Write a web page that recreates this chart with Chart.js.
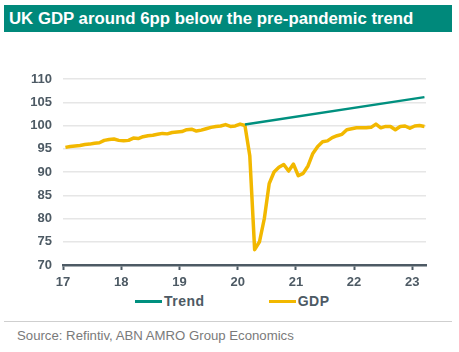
<!DOCTYPE html>
<html lang="en">
<head>
    <meta charset="UTF-8">
    <title>UK GDP vs pre-pandemic trend</title>
    <script src="https://cdn.jsdelivr.net/npm/chart.js"></script>
    <style>
        body {
            margin: 0;
            width: 459px;
            height: 352px;
            background: #fff;
            font-family: 'Liberation Sans', Arial, sans-serif;
            position: relative;
            overflow: hidden;
        }
        .title-box {
            position: absolute;
            left: 4px;
            top: 5px;
            width: 443px;
            height: 27px;
            padding-left: 5px;
            background: #00897b;
            color: #fff;
            font-weight: bold;
            font-size: 16.8px;
            line-height: 27px;
        }
        .chart-wrap {
            position: absolute;
            left: 0;
            top: 0;
            width: 459px;
            height: 292px;
        }
        #legend {
            position: absolute;
            left: 135px;
            top: 293px;
            display: flex;
            gap: 64px;
            font-size: 14px;
            font-weight: bold;
            color: #4d5a64;
            letter-spacing: 0.5px;
        }
        #legend .item { display: flex; align-items: center; }
        #legend .swatch { width: 27px; height: 3px; margin-right: 2px; }
        .rule {
            position: absolute;
            left: 4px;
            top: 321px;
            width: 448px;
            height: 1px;
            background: #cfcfcf;
        }
        .source {
            position: absolute;
            left: 17px;
            top: 328px;
            font-size: 13.2px;
            color: #7a7a7a;
        }
    </style>
</head>
<body>
    <div class="title-box">UK GDP around 6pp below the pre-pandemic trend</div>
    <div class="chart-wrap"><canvas id="gdpChart"></canvas></div>
    <div id="legend"></div>
    <div class="rule"></div>
    <div class="source">Source: Refintiv, ABN AMRO Group Economics</div>

    <script>
        // monthly index, Jan 2017 .. Mar 2023
        const startYear = 2017;
        const gdp = [
            95.3, 95.5, 95.6, 95.7, 95.9, 96.0, 96.2, 96.3, 96.8, 97.0, 97.1, 96.8,
            96.7, 96.8, 97.3, 97.2, 97.6, 97.8, 97.9, 98.1, 98.3, 98.2, 98.5, 98.6,
            98.7, 99.1, 99.2, 98.8, 99.0, 99.3, 99.6, 99.8, 99.9, 100.2, 99.8, 99.9,
            100.3, 100.0, 93.5, 73.3, 75.0, 80.0, 87.5, 90.0, 91.0, 91.6, 90.2, 91.7,
            89.2, 89.7, 91.3, 94.0, 95.5, 96.5, 96.7, 97.4, 97.8, 98.1, 99.1, 99.3,
            99.5, 99.5, 99.5, 99.6, 100.3, 99.5, 99.8, 99.8, 99.1, 99.8, 99.9, 99.4,
            99.9, 100.0, 99.8
        ];
        const trendMonths = ['2020-02', '2023-03'];
        const trendValues = [100.2, 106.1];
        const xTicks = [17, 18, 19, 20, 21, 22, 23];
        const yTicks = [70, 75, 80, 85, 90, 95, 100, 105, 110];

        const axisColor = '#4d5a64';

        // month -> position on a two-digit year axis (mid-month)
        function monthPos(str) {
            const [y, m] = str.split('-').map(Number);
            return (y - 2000) + (m - 0.5) / 12;
        }
        function monthLabel(i) {
            const y = startYear + Math.floor(i / 12);
            const m = (i % 12) + 1;
            return y + '-' + String(m).padStart(2, '0');
        }

        const gdpPoints = gdp.map((v, i) => ({ x: monthPos(monthLabel(i)), y: v }));
        const trendPoints = trendValues.map((v, i) => ({ x: monthPos(trendMonths[i]), y: v }));

        const ctx = document.getElementById('gdpChart').getContext('2d');
        const chart = new Chart(ctx, {
            type: 'line',
            data: {
                datasets: [
                    { label: 'Trend', data: trendPoints, borderColor: '#00907f', backgroundColor: '#00907f',
                      borderWidth: 2.5, pointRadius: 0, tension: 0 },
                    { label: 'GDP', data: gdpPoints, borderColor: '#f2b800', backgroundColor: '#f2b800',
                      borderWidth: 3.5, pointRadius: 0, tension: 0, borderJoinStyle: 'round' }
                ]
            },
            options: {
                responsive: true,
                maintainAspectRatio: false,
                animation: false,
                layout: { padding: { top: 79, left: 0, right: 33, bottom: 0 } },
                plugins: { legend: { display: false }, tooltip: { enabled: false } },
                scales: {
                    x: {
                        type: 'linear',
                        min: 17,
                        max: 23.235,
                        afterBuildTicks: s => { s.ticks = xTicks.map(v => ({ value: v })); },
                        afterFit: s => { s.height = 27; },
                        grid: { drawOnChartArea: false, drawTicks: true, tickLength: 5, tickWidth: 2, tickColor: axisColor },
                        border: { display: true, color: axisColor, width: 2.5 },
                        ticks: {
                            padding: 5,
                            maxRotation: 0,
                            color: axisColor,
                            font: { family: "'Liberation Sans', Arial", size: 13, weight: 'bold' },
                            callback: v => String(v)
                        }
                    },
                    y: {
                        min: 70,
                        max: 110,
                        afterBuildTicks: s => { s.ticks = yTicks.map(v => ({ value: v })); },
                        afterFit: s => { s.width = 63; },
                        grid: { color: '#e6e6e6', lineWidth: 1.5, drawTicks: false },
                        border: { display: false },
                        ticks: {
                            padding: 11,
                            color: axisColor,
                            font: { family: "'Liberation Sans', Arial", size: 13, weight: 'bold' }
                        }
                    }
                }
            }
        });

        // simple html legend built from the datasets
        const legend = document.getElementById('legend');
        chart.data.datasets.forEach(ds => {
            const item = document.createElement('div');
            item.className = 'item';
            const sw = document.createElement('span');
            sw.className = 'swatch';
            sw.style.background = ds.borderColor;
            const txt = document.createElement('span');
            txt.textContent = ds.label;
            item.appendChild(sw);
            item.appendChild(txt);
            legend.appendChild(item);
        });
    </script>
</body>
</html>
